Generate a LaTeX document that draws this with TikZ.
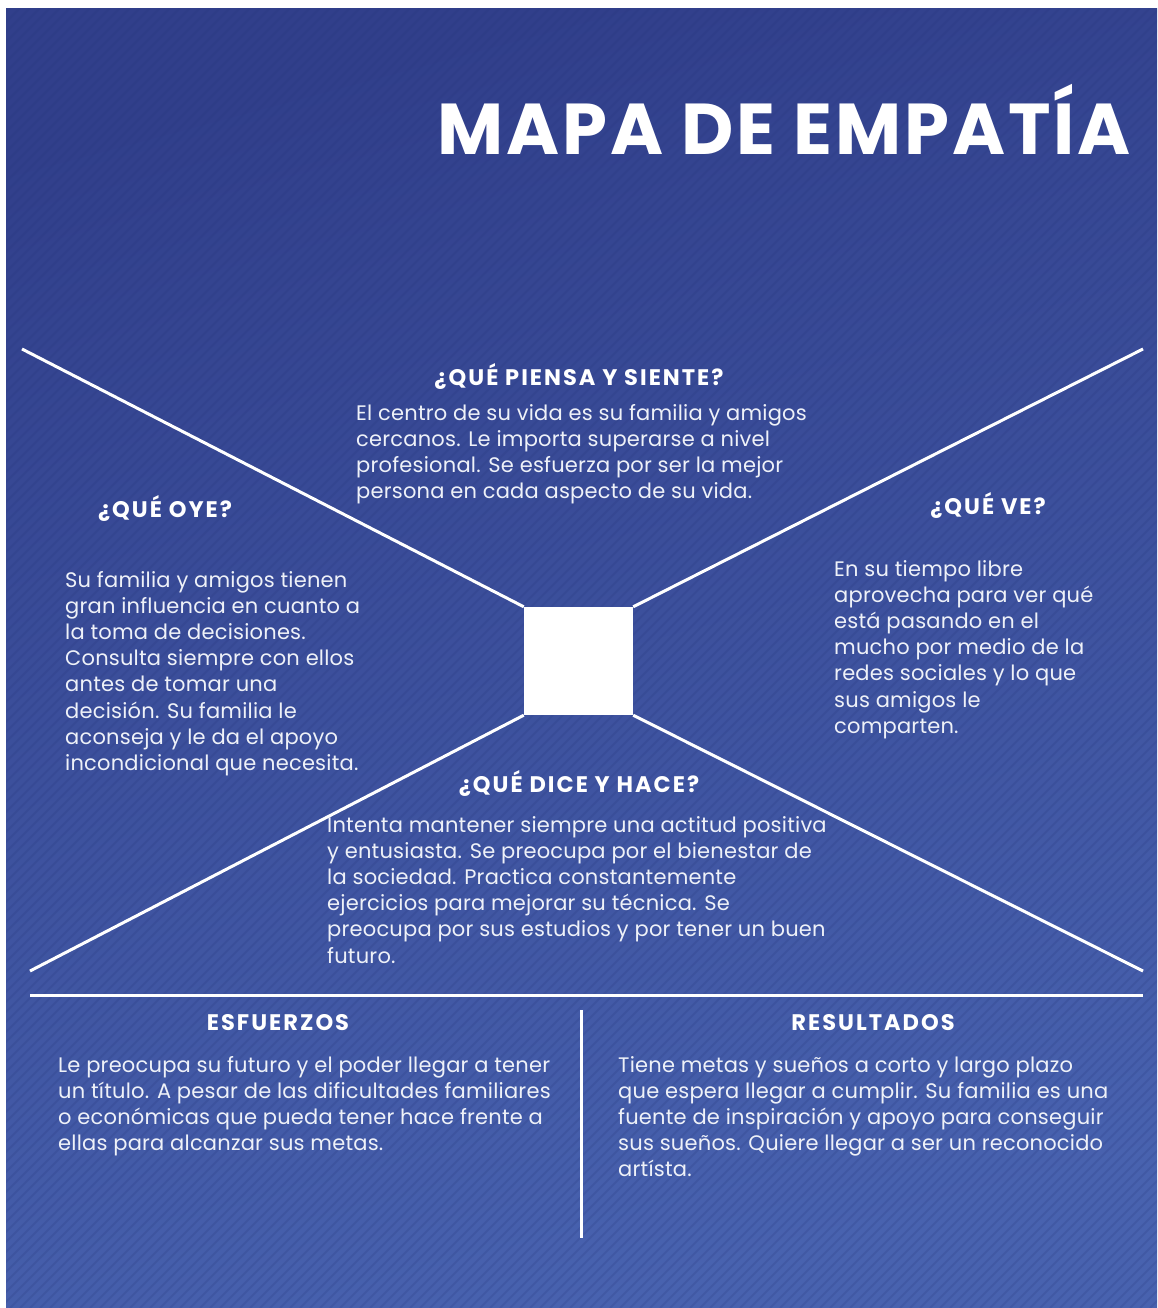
\documentclass[tikz,border=0pt]{standalone}
\usepackage{fontspec}
\setmainfont{Poppins}
\usepackage{tikz}
\usetikzlibrary{positioning}

\definecolor{bgdark}{HTML}{313F8B}
\definecolor{bglight}{HTML}{4862AF}
\definecolor{stripe}{HTML}{243478}
\definecolor{txtwhite}{HTML}{EEF1F8}

\begin{document}
\begin{tikzpicture}[x=1pt, y=-1pt,
    heading/.style={anchor=base, text=white, inner sep=0pt, font=\bfseries\fontsize{22.5}{26}\selectfont\addfontfeatures{LetterSpace=9}},
    bodytext/.style={anchor=base west, align=left, text=txtwhite, inner sep=0pt, font=\fontsize{21}{26.2}\selectfont\addfontfeatures{LetterSpace=1}},
    divider/.style={white, line width=3pt}]

    % Page and background
    \useasboundingbox (0,0) rectangle (1157,1308);
    \shade[top color=bgdark, bottom color=bglight, shading angle=15] (6,9) rectangle (1157,1308);
    \begin{scope}
        \clip (6,9) rectangle (1157,1308);
        \foreach \s in {-1300,-1290,...,1160} {
            \draw[stripe, opacity=0.18, line width=2pt] (\s,1308) -- ++(1300,-1300);
        }
    \end{scope}

    % Title
    \node[anchor=base east, text=white, inner sep=0pt, font=\bfseries\fontsize{72}{72}\selectfont\addfontfeatures{LetterSpace=4}] (title) at (1131,155) {MAPA DE EMPATÍA};

    % Centre square and diagonals
    \node[fill=white, minimum width=109pt, minimum height=108pt, inner sep=0pt] (centro) at (578.5,661) {};
    \coordinate (tl) at (22,349);
    \coordinate (tr) at (1143,349);
    \coordinate (bl) at (30,971);
    \coordinate (br) at (1143,971);
    \draw[divider] (centro.north west) -- (tl);
    \draw[divider] (centro.north east) -- (tr);
    \draw[divider] (centro.south west) -- (bl);
    \draw[divider] (centro.south east) -- (br);

    % Bottom dividers
    \coordinate (hl) at (30,995);
    \coordinate (hr) at (1143,995);
    \coordinate (vt) at (581,1010);
    \coordinate (vb) at (581,1238);
    \draw[divider] (hl) -- (hr);
    \draw[divider] (vt) -- (vb);

    % Thinks and feels (body anchored on its last baseline)
    \node[heading] (piensa) at (579,385) {¿QUÉ PIENSA Y SIENTE?};
    \node[bodytext] (piensatxt) at (356,498.6) {El centro de su vida es su familia y amigos\\
        cercanos. Le importa superarse a nivel\\
        profesional. Se esfuerza por ser la mejor\\
        persona en cada aspecto de su vida.};

    % Hears
    \node[heading] (oye) at (165,517) {¿QUÉ OYE?};
    \node[bodytext] (oyetxt) at (65,770.4) {Su familia y amigos tienen\\
        gran influencia en cuanto a\\
        la toma de decisiones.\\
        Consulta siempre con ellos\\
        antes de tomar una\\
        decisión. Su familia le\\
        aconseja y le da el apoyo\\
        incondicional que necesita.};

    % Sees
    \node[heading] (ve) at (988,514) {¿QUÉ VE?};
    \node[bodytext] (vetxt) at (834,733.2) {En su tiempo libre\\
        aprovecha para ver qué\\
        está pasando en el\\
        mucho por medio de la\\
        redes sociales y lo que\\
        sus amigos le\\
        comparten.};

    % Says and does
    \node[heading] (dice) at (579,792) {¿QUÉ DICE Y HACE?};
    \node[bodytext] (dicetxt) at (327,963) {Intenta mantener siempre una actitud positiva\\
        y entusiasta. Se preocupa por el bienestar de\\
        la sociedad. Practica constantemente\\
        ejercicios para mejorar su técnica. Se\\
        preocupa por sus estudios y por tener un buen\\
        futuro.};

    % Efforts
    \node[heading] (esfuerzos) at (278,1030) {ESFUERZOS};
    \node[bodytext] (esfuerzostxt) at (58,1150.6) {Le preocupa su futuro y el poder llegar a tener\\
        un título. A pesar de las dificultades familiares\\
        o económicas que pueda tener hace frente a\\
        ellas para alcanzar sus metas.};

    % Results
    \node[heading] (resultados) at (873,1030) {RESULTADOS};
    \node[bodytext] (resultadostxt) at (618,1176.8) {Tiene metas y sueños a corto y largo plazo\\
        que espera llegar a cumplir. Su familia es una\\
        fuente de inspiración y apoyo para conseguir\\
        sus sueños. Quiere llegar a ser un reconocido\\
        artísta.};
\end{tikzpicture}
\end{document}
